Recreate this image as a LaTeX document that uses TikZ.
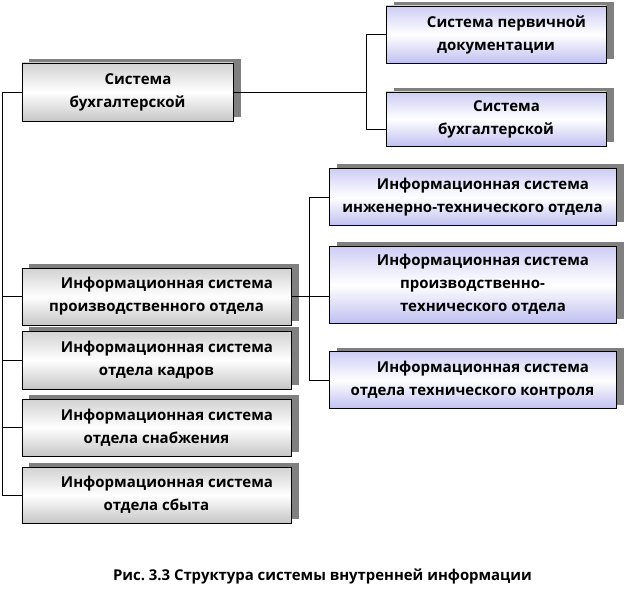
\documentclass[tikz,border=0pt]{standalone}
\usepackage{fontspec}
\setmainfont{Open Sans}
\frenchspacing
\usetikzlibrary{shadows}
\definecolor{pastelgray}{RGB}{198,198,198}
\definecolor{pastelblue}{RGB}{192,192,242}
\newcommand{\firstind}{\hspace*{1.4em}}

\begin{document}
\begin{tikzpicture}[x=1bp, y=-1bp,
    box/.style={draw, line width=0.9bp, inner sep=0pt, align=center,
        font=\bfseries\fontsize{15bp}{23bp}\selectfont,
        drop shadow={shadow xshift=7.5bp, shadow yshift=4bp, fill=black!50, opacity=1}},
    graybox/.style={box, top color=pastelgray!80, bottom color=pastelgray, middle color=white},
    bluebox/.style={box, top color=pastelblue!80, bottom color=pastelblue, middle color=white},
    link/.style={line width=0.9bp}]
    \useasboundingbox (0,0) rectangle (627,603);

    % Left column
    \node[graybox, minimum width=211bp, minimum height=58bp] (buh) at (127.5,92) {\firstind Система\\бухгалтерской};
    \node[graybox, minimum width=269bp, minimum height=57bp] (prod) at (156.5,296.5) {\firstind Информационная система\\производственного отдела};
    \node[graybox, minimum width=269bp, minimum height=58bp] (kadr) at (156.5,360) {\firstind Информационная система\\отдела кадров};
    \node[graybox, minimum width=269bp, minimum height=57bp] (snab) at (156.5,427.5) {\firstind Информационная система\\отдела снабжения};
    \node[graybox, minimum width=269bp, minimum height=56bp] (sbyt) at (156.5,495) {\firstind Информационная система\\отдела сбыта};

    % Right column, top
    \node[bluebox, minimum width=220bp, minimum height=57bp] (perv) at (496,34.5) {\firstind Система первичной\\документации};
    \node[bluebox, minimum width=220bp, minimum height=54bp] (buhr) at (496,119) {\firstind Система\\бухгалтерской};

    % Right column, bottom
    \node[bluebox, minimum width=287bp, minimum height=57bp] (inzh) at (472.5,197) {\firstind Информационная система\\инженерно-технического отдела};
    \node[bluebox, minimum width=287bp, minimum height=77bp] (ptech) at (472.5,284.5) {\firstind Информационная система\\производственно-\\\firstind технического отдела};
    \node[bluebox, minimum width=287bp, minimum height=57bp] (otk) at (472.5,380) {\firstind Информационная система\\отдела технического контроля};

    % Connectors
    \draw[link] (buh.west) -- ++(-19,0) |- (sbyt.west);
    \draw[link] (prod.west) -- ++(-18.5,0);
    \draw[link] (kadr.west) -- ++(-18.5,0);
    \draw[link] (snab.west) -- ++(-18.5,0);
    \draw[link] (buh.east) -- ([xshift=-19bp]buh.east -| perv.west);
    \draw[link] (perv.west) -- ++(-19,0) |- ([yshift=-10bp]buhr.west);
    \draw[link] (prod.east) -- (prod.east -| ptech.west);
    \draw[link] (inzh.west) -- ++(-19,0) |- (otk.west);

    % Caption
    \node[font=\bfseries\fontsize{14.9bp}{17bp}\selectfont] (cap) at (322.5,576) {Рис. 3.3 Структура системы внутренней информации};
\end{tikzpicture}
\end{document}
